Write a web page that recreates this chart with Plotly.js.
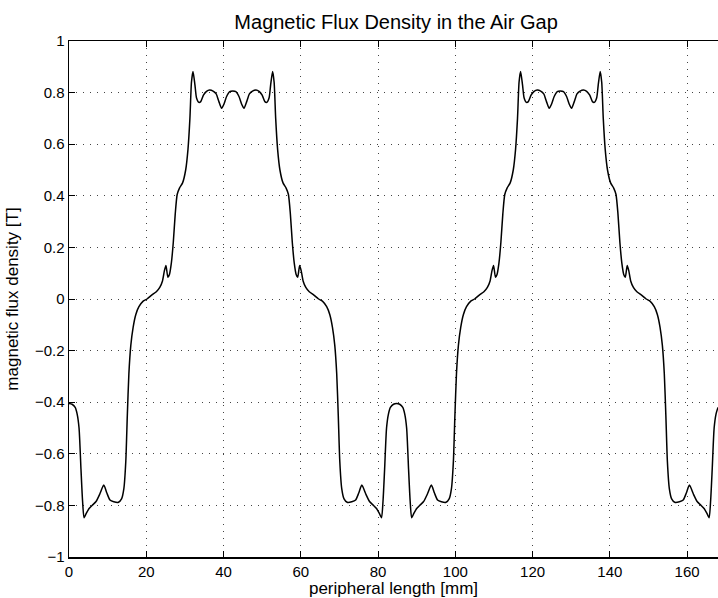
<!DOCTYPE html>
<html>
<head>
<meta charset="utf-8">
<script src="https://cdn.plot.ly/plotly-3.0.1.min.js"></script>
<style>html,body{margin:0;padding:0;background:#fff;}</style>
</head>
<body>
<div id="chart" style="width:718px;height:598px;"></div>
<script>
// peripheral length [mm]
const lengthMm = [
  0, 0.8, 1.6, 2.1, 2.6, 3.1, 3.5, 3.9, 4.5, 5.2, 6.2, 7.0, 8.0, 9.0, 9.8, 10.6, 11.6, 12.8, 13.6, 14.2, 14.7, 15.1, 15.5, 16.0, 16.6, 17.3, 18.1, 19.2, 20.2,
  21.4, 22.6, 23.5, 24.2, 24.7, 25.1, 25.6, 26.0, 26.5, 27.0, 27.5, 28.0, 28.6, 29.4, 30.2, 30.8, 31.3, 31.7, 32.1, 32.6, 33.0, 33.6, 34.1, 34.8, 35.6, 36.4, 37.3, 38.1, 38.8, 39.5, 40.1, 40.8, 41.6, 42.4,
  43.2, 44.0, 44.7, 45.3, 46.0, 46.7, 47.5, 48.4, 49.2, 50.0, 50.7, 51.2, 51.8, 52.2, 52.7, 53.1, 53.5, 54.0, 54.6, 55.4, 56.2, 56.8, 57.3, 57.8, 58.3, 58.8, 59.2, 59.7, 60.1, 60.6, 61.3, 62.2, 63.4,
  64.6, 65.6, 66.7, 67.5, 68.2, 68.8, 69.3, 69.7, 70.1, 70.6, 71.2, 72.0, 73.2, 74.2, 75.0, 75.8, 76.8, 77.8, 78.6, 79.6, 80.3, 80.9, 81.3, 81.7, 82.2, 82.7, 83.2, 84.0, 84.8,
  85.6, 86.4, 86.9, 87.4, 87.9, 88.3, 88.7, 89.3, 90.0, 91.0, 91.8, 92.8, 93.8, 94.6, 95.4, 96.4, 97.6, 98.4, 99.0, 99.5, 99.9, 100.3, 100.8, 101.4, 102.1, 102.9, 104.0, 105.0,
  106.2, 107.4, 108.3, 109.0, 109.5, 109.9, 110.4, 110.8, 111.3, 111.8, 112.3, 112.8, 113.4, 114.2, 115.0, 115.6, 116.1, 116.5, 116.9, 117.4, 117.8, 118.4, 118.9, 119.6, 120.4, 121.2, 122.1, 122.9, 123.6, 124.3, 124.9, 125.6, 126.4, 127.2,
  128.0, 128.8, 129.5, 130.1, 130.8, 131.5, 132.3, 133.2, 134.0, 134.8, 135.5, 136.0, 136.6, 137.0, 137.5, 137.9, 138.3, 138.8, 139.4, 140.2, 141.0, 141.6, 142.1, 142.6, 143.1, 143.6, 144.0, 144.5, 144.9, 145.4, 146.1, 147.0, 148.2,
  149.4, 150.4, 151.5, 152.3, 153.0, 153.6, 154.1, 154.5, 154.9, 155.4, 156.0, 156.8, 158.0, 159.0, 159.8, 160.6, 161.6, 162.6, 163.4, 164.4, 165.1, 165.7, 166.1, 166.5, 167.0, 167.5, 168.0
];

// magnetic flux density [T]
const fluxDensity = [
  -0.405, -0.408, -0.42, -0.445, -0.5, -0.66, -0.78, -0.848, -0.83, -0.812, -0.797, -0.785, -0.755, -0.721, -0.752, -0.779, -0.786, -0.788, -0.775, -0.735, -0.63, -0.45, -0.29, -0.18, -0.11, -0.06, -0.03, -0.008, 0.0,
  0.015, 0.028, 0.045, 0.07, 0.11, 0.13, 0.084, 0.095, 0.14, 0.22, 0.33, 0.405, 0.43, 0.45, 0.5, 0.58, 0.7, 0.84, 0.882, 0.83, 0.78, 0.762, 0.765, 0.79, 0.805, 0.81, 0.806, 0.795, 0.765, 0.739, 0.755, 0.785, 0.804, 0.806,
  0.804, 0.785, 0.755, 0.739, 0.765, 0.795, 0.806, 0.81, 0.805, 0.79, 0.765, 0.762, 0.78, 0.83, 0.882, 0.84, 0.7, 0.58, 0.5, 0.45, 0.43, 0.405, 0.33, 0.22, 0.14, 0.095, 0.084, 0.13, 0.11, 0.07, 0.045, 0.028, 0.015,
  0.0, -0.008, -0.03, -0.06, -0.11, -0.18, -0.29, -0.45, -0.63, -0.735, -0.775, -0.788, -0.786, -0.779, -0.752, -0.721, -0.755, -0.785, -0.797, -0.812, -0.83, -0.848, -0.78, -0.66, -0.5, -0.445, -0.42, -0.408, -0.405,
  -0.408, -0.42, -0.445, -0.5, -0.66, -0.78, -0.848, -0.83, -0.812, -0.797, -0.785, -0.755, -0.721, -0.752, -0.779, -0.786, -0.788, -0.775, -0.735, -0.63, -0.45, -0.29, -0.18, -0.11, -0.06, -0.03, -0.008, 0.0,
  0.015, 0.028, 0.045, 0.07, 0.11, 0.13, 0.084, 0.095, 0.14, 0.22, 0.33, 0.405, 0.43, 0.45, 0.5, 0.58, 0.7, 0.84, 0.882, 0.83, 0.78, 0.762, 0.765, 0.79, 0.805, 0.81, 0.806, 0.795, 0.765, 0.739, 0.755, 0.785, 0.804, 0.806,
  0.804, 0.785, 0.755, 0.739, 0.765, 0.795, 0.806, 0.81, 0.805, 0.79, 0.765, 0.762, 0.78, 0.83, 0.882, 0.84, 0.7, 0.58, 0.5, 0.45, 0.43, 0.405, 0.33, 0.22, 0.14, 0.095, 0.084, 0.13, 0.11, 0.07, 0.045, 0.028, 0.015,
  0.0, -0.008, -0.03, -0.06, -0.11, -0.18, -0.29, -0.45, -0.63, -0.735, -0.775, -0.788, -0.786, -0.779, -0.752, -0.721, -0.755, -0.785, -0.797, -0.812, -0.83, -0.848, -0.78, -0.66, -0.5, -0.445, -0.42
];

const xTicks = [0, 20, 40, 60, 80, 100, 120, 140, 160];
const yTicks = [-1, -0.8, -0.6, -0.4, -0.2, 0, 0.2, 0.4, 0.6, 0.8, 1];

const trace = {
  type: 'scatter',
  mode: 'lines',
  x: lengthMm,
  y: fluxDensity,
  line: {color: '#000', width: 1.5, shape: 'spline', smoothing: 0.6},
  hoverinfo: 'skip',
  showlegend: false
};

const gridStyle = {
  showgrid: true,
  gridcolor: '#444',
  gridwidth: 1,
  griddash: '1px,6px',
  zeroline: false,
  ticks: 'inside',
  ticklen: 6,
  tickwidth: 1,
  tickcolor: '#000',
  showline: true,
  linecolor: '#000',
  linewidth: 1.5,
  tickfont: {size: 15, color: '#000'}
};

const layout = {
  width: 718,
  height: 598,
  margin: {l: 69, r: 0, t: 41, b: 41, pad: 0},
  paper_bgcolor: '#fff',
  plot_bgcolor: '#fff',
  font: {family: '"Liberation Sans", Arial, Helvetica, sans-serif', size: 15, color: '#000'},
  title: {
    text: 'Magnetic Flux Density in the Air Gap',
    font: {size: 20, color: '#000'},
    x: 0.504, xref: 'paper', xanchor: 'center',
    y: 0.963, yref: 'container', yanchor: 'middle'
  },
  xaxis: Object.assign({}, gridStyle, {
    range: [0, 168],
    tickvals: xTicks,
    ticktext: xTicks.map(String),
    mirror: 'ticks',
    title: {text: 'peripheral length [mm]', font: {size: 17, color: '#000'}, standoff: 6}
  }),
  yaxis: Object.assign({}, gridStyle, {
    range: [-1, 1],
    tickvals: yTicks,
    mirror: false,
    title: {text: 'magnetic flux density [T]', font: {size: 17, color: '#000'}, standoff: 12}
  })
};

Plotly.newPlot('chart', [trace], layout, {displayModeBar: false, staticPlot: true});
</script>
</body>
</html>
